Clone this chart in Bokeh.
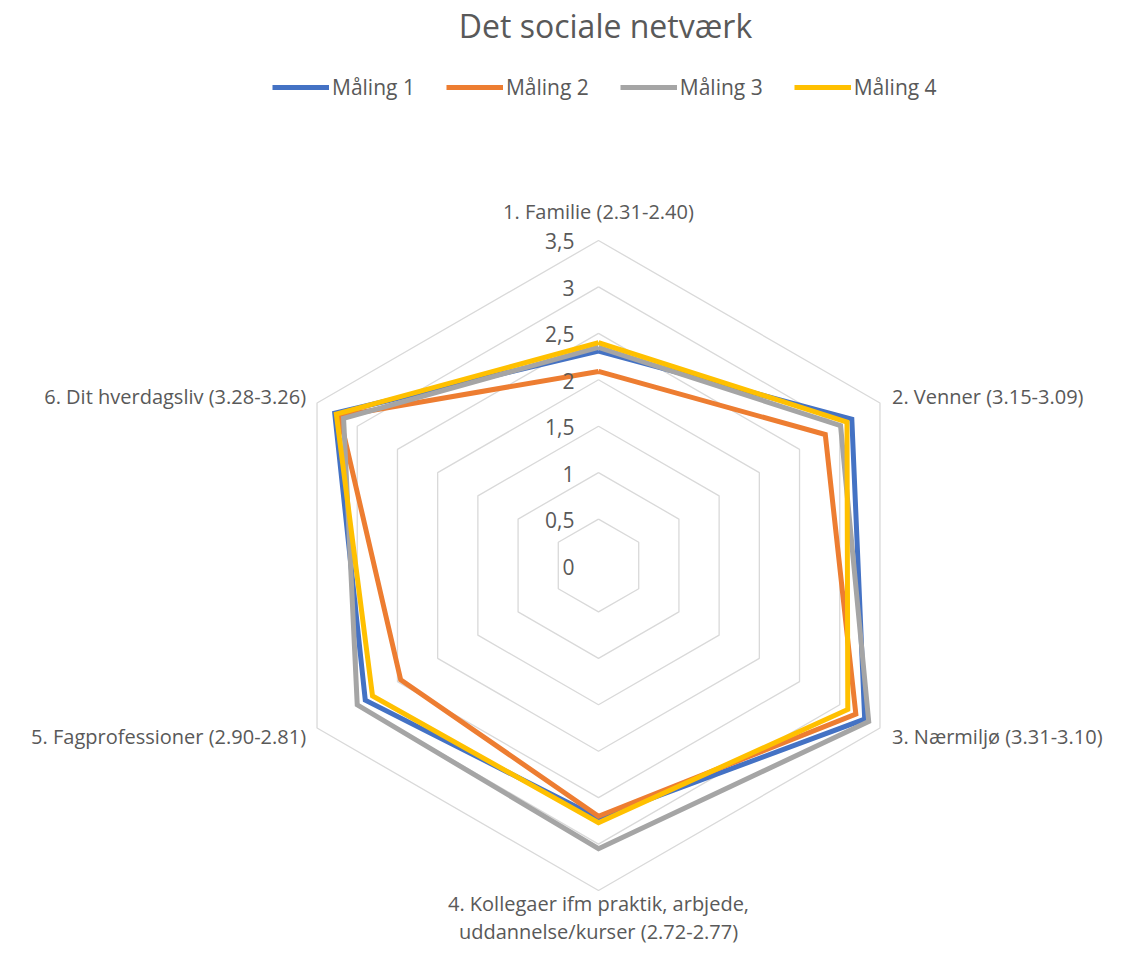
import numpy as np
from bokeh.plotting import figure
from bokeh.models import Range1d, Legend, LegendItem, ColumnDataSource, Label
from bokeh.core.properties import value
from bokeh.embed import file_html
from bokeh.resources import INLINE

# ---- data ----
chart_title = "Det sociale netværk"
categories = [
    "1. Familie (2.31-2.40)",
    "2. Venner (3.15-3.09)",
    "3. Nærmiljø (3.31-3.10)",
    "4. Kollegaer ifm praktik, arbjede,\nuddannelse/kurser (2.72-2.77)",
    "5. Fagprofessioner (2.90-2.81)",
    "6. Dit hverdagsliv (3.28-3.26)",
]
series_names = ["Måling 1", "Måling 2", "Måling 3", "Måling 4"]
maaling_1 = [2.31, 3.15, 3.31, 2.72, 2.90, 3.28]
maaling_2 = [2.09, 2.82, 3.20, 2.70, 2.46, 3.22]
maaling_3 = [2.35, 3.01, 3.36, 3.05, 3.00, 3.17]
maaling_4 = [2.40, 3.09, 3.10, 2.77, 2.81, 3.26]
tick_values = [0, 0.5, 1, 1.5, 2, 2.5, 3, 3.5]
tick_labels = ["0", "0,5", "1", "1,5", "2", "2,5", "3", "3,5"]

series_values = [maaling_1, maaling_2, maaling_3, maaling_4]
colors = ["#4472C4", "#ED7D31", "#A5A5A5", "#FFC000"]
TEXT = "#595959"
FONT = "Open Sans"

# ---- layout ----
PX = 92.86          # pixels per unit
W, H = 1107, 944
cx, cy = 598, 565   # center of radar in frame pixels (from top-left)
rmax = tick_values[-1]

p = figure(width=W, height=H,
           x_range=Range1d(-cx / PX, (W - cx) / PX),
           y_range=Range1d(-(H - cy) / PX, cy / PX),
           x_axis_type=None, y_axis_type=None,
           output_backend="svg", toolbar_location=None, min_border=0)
p.grid.visible = False
p.outline_line_color = None
p.background_fill_color = "white"
p.border_fill_color = "white"

n = len(categories)
theta = np.pi / 2 - np.arange(n) * 2 * np.pi / n
ct, st = np.cos(theta), np.sin(theta)

# grid hexagons
gx, gy = [], []
for r in tick_values[1:]:
    gx.append(list(np.append(r * ct, r * ct[0])))
    gy.append(list(np.append(r * st, r * st[0])))
p.multi_line(gx, gy, line_color="#D9D9D9", line_width=1.3)

# series
renderers = []
for name, vals, col in zip(series_names, series_values, colors):
    v = np.array(vals)
    xs = np.append(v * ct, v[0] * ct[0])
    ys = np.append(v * st, v[0] * st[0])
    r = p.line(xs, ys, line_color=col, line_width=5, line_join="miter")
    renderers.append(r)

# tick labels
p.text(x=[0] * len(tick_values), y=tick_values, text=tick_labels,
       x_offset=-24, y_offset=1, text_align="right", text_baseline="middle",
       text_color=TEXT, text_font=value(FONT), text_font_size="21px")

# category labels
aligns, xo, yo = [], [], []
for c, s in zip(ct, st):
    if c > 0.1:
        aligns.append("left"); xo.append(12)
    elif c < -0.1:
        aligns.append("right"); xo.append(-11)
    else:
        aligns.append("center"); xo.append(0)
    if s > 0.9:
        yo.append(-29)
    elif s > 0:
        yo.append(-6)
    elif s > -0.9:
        yo.append(8)
    else:
        yo.append(27)
src = ColumnDataSource(dict(x=rmax * ct, y=rmax * st, text=categories,
                            align=aligns, xo=xo, yo=yo))
p.text(x="x", y="y", text="text", source=src, x_offset="xo", y_offset="yo",
       text_align="align", text_baseline="middle", text_line_height=1.05,
       text_color=TEXT, text_font=value(FONT), text_font_size="20px")

# title
p.add_layout(Label(x=605, y=H - 25, x_units="screen", y_units="screen",
                   text=chart_title, text_align="center", text_baseline="middle",
                   text_color=TEXT, text_font=FONT, text_font_size="32px"))

# legend
legend = Legend(items=[LegendItem(label=nm, renderers=[r]) for nm, r in zip(series_names, renderers)],
                orientation="horizontal", location=(272, H - 101),
                glyph_width=57, glyph_height=22, label_standoff=3, spacing=31,
                padding=0, margin=0, border_line_color=None, background_fill_alpha=0,
                label_text_color=TEXT, label_text_font=FONT, label_text_font_size="21px",
                label_height=22)
p.add_layout(legend)

open("out.html", "w").write(file_html(p, INLINE))
